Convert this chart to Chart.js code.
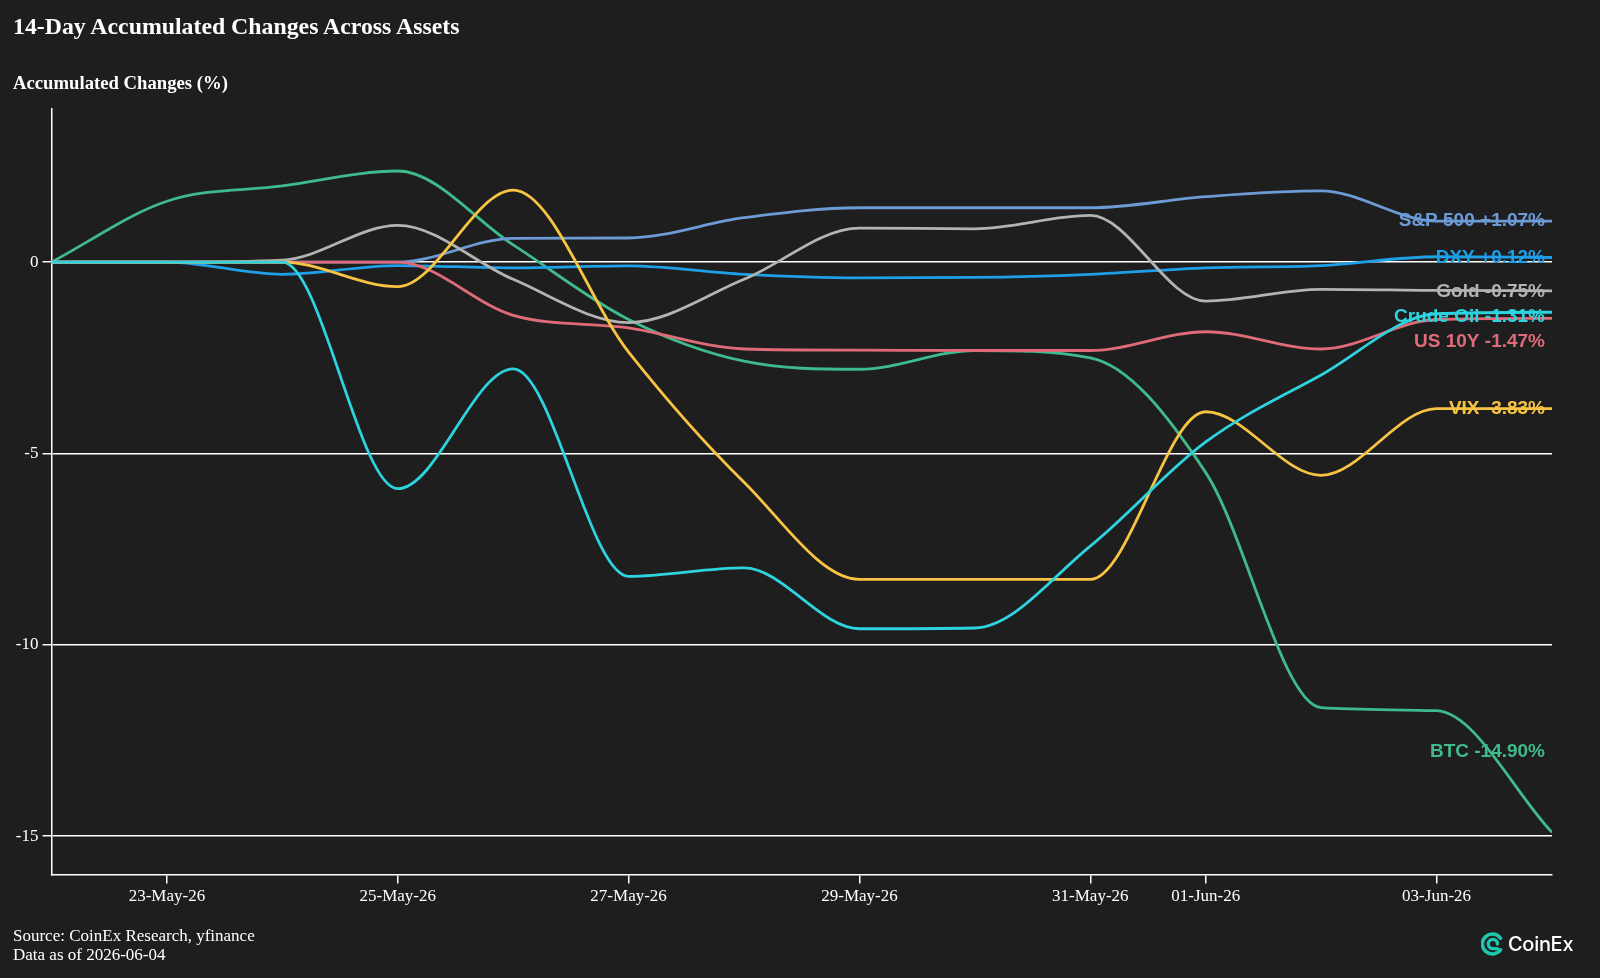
<!doctype html>
<html lang="en">

<head>
  <meta charset="utf-8">
  <title>14-Day Accumulated Changes Across Assets</title>
  <script src="https://cdn.jsdelivr.net/npm/chart.js@4.4.1/dist/chart.umd.min.js"></script>
  <style>
    body { margin: 0; background: #1e1e1e; }
    #wrap { position: relative; width: 1600px; height: 978px; background: #1e1e1e; }
    #chart { position: absolute; left: 0; top: 0; }
    .txt { position: absolute; color: #ffffff; white-space: nowrap; }
    .title { left: 13px; top: 14px; font: bold 23.8px/24px "Liberation Serif", serif; }
    .ylabel { left: 13px; top: 73px; font: bold 18.7px/19px "Liberation Serif", serif; }
    .footer { left: 13px; top: 926px; font: 17px/19px "Liberation Serif", serif; }
    .logo { position: absolute; left: 1481px; top: 932px; display: flex; align-items: center; }
    .logo span { color: #ffffff; font: 500 20px/24px "Inter", "Noto Sans", sans-serif; margin-left: 3px; letter-spacing: -0.3px; }
  </style>
</head>

<body>
  <div id="wrap">
    <canvas id="chart" width="1600" height="978"></canvas>
    <div class="txt title">14-Day Accumulated Changes Across Assets</div>
    <div class="txt ylabel">Accumulated Changes (%)</div>
    <div class="txt footer">Source: CoinEx Research, yfinance<br>Data as of 2026-06-04</div>
    <div class="logo">
      <svg width="24" height="24" viewBox="0 0 24 24">
        <path d="M19.5 6.2 A10 10 0 1 0 19.5 17.8" fill="none" stroke="#1ec8ae" stroke-width="3.6" stroke-linecap="round"/>
        <path d="M16.5 12 A4.6 4.6 0 1 0 11.9 16.6 L16.5 16.6" fill="none" stroke="#1ec8ae" stroke-width="3.4" stroke-linecap="round"/>
      </svg>
      <span>CoinEx</span>
    </div>
  </div>

  <script>
    // daily points, 22-May-26 .. 04-Jun-26
    const dates = ['2026-05-22', '2026-05-23', '2026-05-24', '2026-05-25', '2026-05-26', '2026-05-27', '2026-05-28',
      '2026-05-29', '2026-05-30', '2026-05-31', '2026-06-01', '2026-06-02', '2026-06-03', '2026-06-04'];
    const tickDates = ['2026-05-23', '2026-05-25', '2026-05-27', '2026-05-29', '2026-05-31', '2026-06-01', '2026-06-03'];
    const tickLabels = ['23-May-26', '25-May-26', '27-May-26', '29-May-26', '31-May-26', '01-Jun-26', '03-Jun-26'];
    const yTicks = [-15, -10, -5, 0];

    const btc = [0, 1.59, 1.99, 2.38, 0.45, -1.50, -2.59, -2.80, -2.31, -2.50, -5.50, -11.64, -11.72, -14.90];
    const sp500 = [0, 0, 0, 0, 0.62, 0.63, 1.16, 1.42, 1.42, 1.42, 1.71, 1.86, 1.07, 1.07];
    const dxy = [0, 0, -0.32, -0.09, -0.15, -0.10, -0.32, -0.41, -0.40, -0.32, -0.15, -0.09, 0.14, 0.12];
    const gold = [0, 0, 0.05, 0.96, -0.45, -1.58, -0.45, 0.89, 0.87, 1.22, -1.02, -0.71, -0.74, -0.75];
    const us10y = [0, 0, 0, 0, -1.39, -1.72, -2.27, -2.30, -2.31, -2.31, -1.82, -2.27, -1.50, -1.47];
    const vix = [0, 0, 0, -0.64, 1.88, -2.35, -5.75, -8.29, -8.29, -8.29, -3.91, -5.57, -3.83, -3.83];
    const crudeOil = [0, 0, 0, -5.92, -2.79, -8.21, -7.99, -9.58, -9.56, -7.42, -4.70, -2.95, -1.35, -1.31];

    const series = [
      { name: 'S&P 500', values: sp500, color: '#6c9bd6', order: 5 },
      { name: 'DXY', values: dxy, color: '#1e9fe6', order: 4 },
      { name: 'Gold', values: gold, color: '#b3b3b3', order: 3 },
      { name: 'Crude Oil', values: crudeOil, color: '#2dd3df', order: 0 },
      { name: 'US 10Y', values: us10y, color: '#df6b78', order: 2 },
      { name: 'VIX', values: vix, color: '#f6c342', order: 1 },
      { name: 'BTC', values: btc, color: '#3fba8b', order: 6 }
    ];

    // the end labels are pushed apart a little where they would collide
    const labelShift = { 'Gold': 1, 'Crude Oil': 5, 'US 10Y': 23, 'BTC': -81 };

    const endLabels = {
      id: 'endLabels',
      afterDatasetsDraw(chart) {
        const ctx = chart.ctx;
        const area = chart.chartArea;
        ctx.save();
        ctx.font = 'bold 19px "Liberation Sans", Arial, sans-serif';
        ctx.textAlign = 'right';
        ctx.textBaseline = 'middle';
        chart.data.datasets.forEach((ds, i) => {
          const meta = chart.getDatasetMeta(i);
          const last = meta.data[meta.data.length - 1];
          const v = ds.data[ds.data.length - 1].y;
          const txt = ds.label + ' ' + (v >= 0 ? '+' : '') + v.toFixed(2) + '%';
          ctx.fillStyle = ds.borderColor;
          ctx.fillText(txt, area.right - 7, last.y + (labelShift[ds.label] || 0));
        });
        ctx.restore();
      }
    };

    const ctx = document.getElementById('chart');

    new Chart(ctx, {
      type: 'line',
      data: {
        datasets: series.map(s => ({
          label: s.name,
          data: s.values.map((v, i) => ({ x: i, y: v })),
          borderColor: s.color,
          backgroundColor: s.color,
          borderWidth: 2.8,
          pointRadius: 0,
          cubicInterpolationMode: 'monotone',
          order: s.order
        }))
      },
      options: {
        responsive: false,
        animation: false,
        devicePixelRatio: 1,
        layout: { padding: { top: 109, right: 48, left: 0, bottom: 0 } },
        plugins: {
          legend: { display: false },
          tooltip: { enabled: false }
        },
        scales: {
          x: {
            type: 'linear',
            min: 0,
            max: dates.length - 1,
            afterBuildTicks: scale => {
              scale.ticks = tickDates.map(d => ({ value: dates.indexOf(d) }));
            },
            afterFit: scale => { scale.height = 103.5; },
            ticks: {
              color: '#ffffff',
              font: { family: '"Liberation Serif", serif', size: 17 },
              padding: 3,
              maxRotation: 0,
              autoSkip: false,
              callback: value => tickLabels[tickDates.indexOf(dates[value])]
            },
            grid: { drawOnChartArea: false, drawTicks: true, tickLength: 9, color: '#ffffff', lineWidth: 1.5 },
            border: { color: '#ffffff', width: 1.5 }
          },
          y: {
            min: -16,
            max: 4,
            afterBuildTicks: scale => {
              scale.ticks = yTicks.map(v => ({ value: v }));
            },
            afterFit: scale => { scale.width = 51.5; },
            ticks: {
              color: '#ffffff',
              font: { family: '"Liberation Serif", serif', size: 17 },
              padding: 4
            },
            grid: { color: '#ffffff', lineWidth: 1.5, tickLength: 9 },
            border: { color: '#ffffff', width: 1.5 }
          }
        }
      },
      plugins: [endLabels]
    });
  </script>
</body>

</html>
